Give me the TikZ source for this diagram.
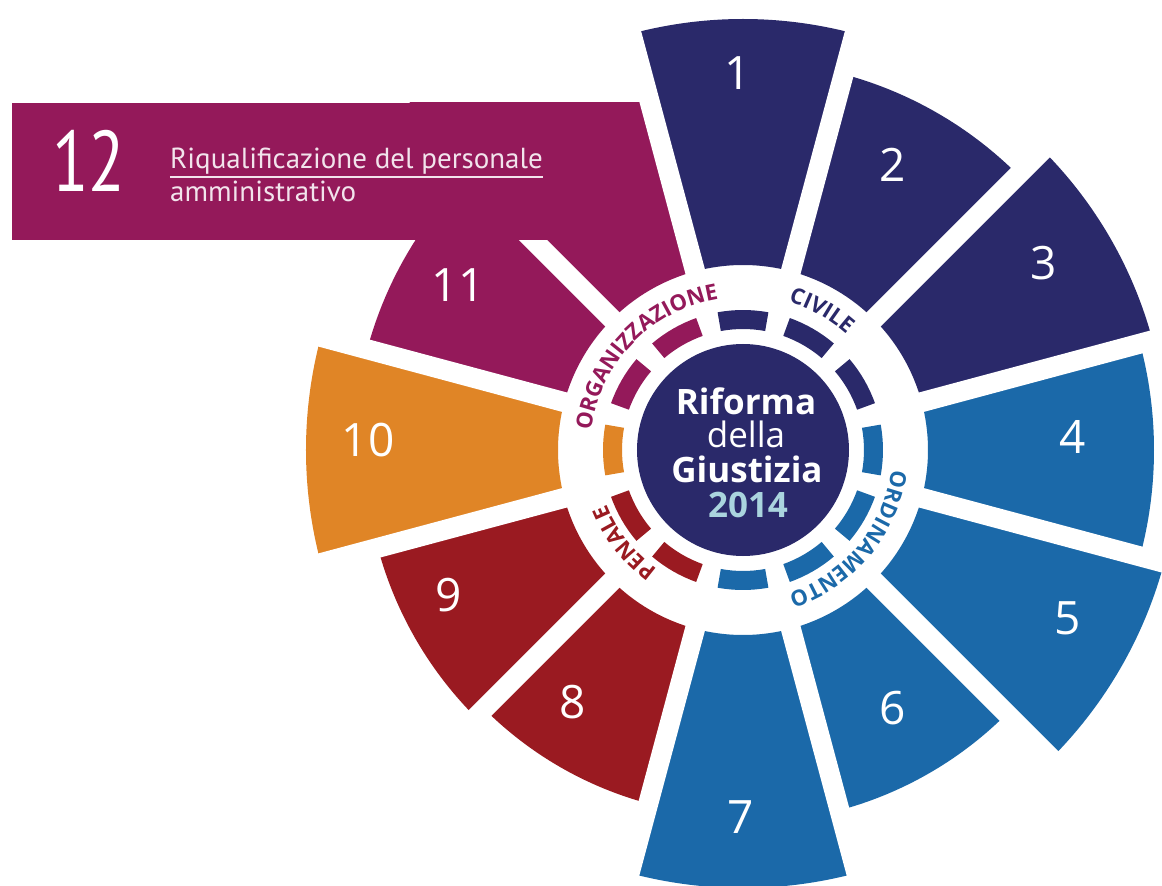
\documentclass[tikz,border=0pt]{standalone}
\usepackage{fontspec}
\setmainfont{Open Sans}
\newfontfamily\bandfont{PT Sans}
\newfontfamily\bignumfont[FakeStretch=0.78]{PT Sans}
\usetikzlibrary{decorations.text}

\definecolor{civnavy}{RGB}{42,41,106}
\definecolor{ordblue}{RGB}{27,105,169}
\definecolor{penred}{RGB}{154,26,33}
\definecolor{orgorange}{RGB}{224,133,38}
\definecolor{orgmagenta}{RGB}{148,25,90}
\definecolor{paleblue}{RGB}{170,212,222}
\definecolor{palepink}{RGB}{242,228,236}

\newcommand{\ringfont}{\fontsize{22}{22}\selectfont\bfseries}

\begin{document}
\begin{tikzpicture}[x=1pt,y=1pt,
        num/.style={text=white,font=\fontsize{46}{46}\selectfont,inner sep=0pt},
        hubtext/.style={anchor=base,inner sep=0pt,font=\fontsize{35}{35}\selectfont\bfseries},
        bandtext/.style={anchor=base west,inner sep=0pt,text=palepink,font=\bandfont\fontsize{29}{29}\selectfont},
        gapline/.style={white,line width=20pt},
        ringdash/.style={line width=19pt}]
\useasboundingbox (-743,-436) rectangle (419,450);
\fill[white] (-743,-436) rectangle (419,450);

\fill[civnavy] (75:185pt) arc[start angle=75,end angle=105,radius=185pt] -- (105:431pt) arc[start angle=105,end angle=75,radius=431pt] -- cycle;
\fill[civnavy] (45:185pt) arc[start angle=45,end angle=75,radius=185pt] -- (75:389pt) arc[start angle=75,end angle=45,radius=389pt] -- cycle;
\fill[civnavy] (15:185pt) arc[start angle=15,end angle=45,radius=185pt] -- (45:424pt) arc[start angle=45,end angle=15,radius=424pt] -- cycle;
\fill[ordblue] (-15:185pt) arc[start angle=-15,end angle=15,radius=185pt] -- (15:411pt) arc[start angle=15,end angle=-15,radius=411pt] -- cycle;
\fill[ordblue] (-45:185pt) arc[start angle=-45,end angle=-15,radius=185pt] -- (-15:436pt) arc[start angle=-15,end angle=-45,radius=436pt] -- cycle;
\fill[ordblue] (-75:185pt) arc[start angle=-75,end angle=-45,radius=185pt] -- (-45:373pt) arc[start angle=-45,end angle=-75,radius=373pt] -- cycle;
\fill[ordblue] (-105:185pt) arc[start angle=-105,end angle=-75,radius=185pt] -- (-75:438pt) arc[start angle=-75,end angle=-105,radius=438pt] -- cycle;
\fill[penred] (-135:185pt) arc[start angle=-135,end angle=-105,radius=185pt] -- (-105:366pt) arc[start angle=-105,end angle=-135,radius=366pt] -- cycle;
\fill[penred] (-165:185pt) arc[start angle=-165,end angle=-135,radius=185pt] -- (-135:378pt) arc[start angle=-135,end angle=-165,radius=378pt] -- cycle;
\fill[orgorange] (165:185pt) arc[start angle=165,end angle=195,radius=185pt] -- (195:437pt) arc[start angle=195,end angle=165,radius=437pt] -- cycle;
\fill[orgmagenta] (135:185pt) arc[start angle=135,end angle=165,radius=185pt] -- (165:389pt) arc[start angle=165,end angle=135,radius=389pt] -- cycle;
\begin{scope}
\clip (-743,-436) rectangle (419,347);
\fill[orgmagenta] (105:185pt) arc[start angle=105,end angle=135,radius=185pt] -- (135:520pt) -- (105:520pt) -- cycle;
\end{scope}

\draw[gapline] (15:178pt) -- (15:530pt);
\draw[gapline] (45:178pt) -- (45:530pt);
\draw[gapline] (75:178pt) -- (75:530pt);
\draw[gapline] (105:178pt) -- (105:530pt);
\draw[gapline] (135:178pt) -- (135:530pt);
\draw[gapline] (165:178pt) -- (165:530pt);
\draw[gapline] (195:178pt) -- (195:530pt);
\draw[gapline] (225:178pt) -- (225:530pt);
\draw[gapline] (255:178pt) -- (255:530pt);
\draw[gapline] (285:178pt) -- (285:530pt);
\draw[gapline] (315:178pt) -- (315:530pt);
\draw[gapline] (345:178pt) -- (345:530pt);

\fill[orgmagenta] (-731,210) rectangle (-142,347);
\node[anchor=base,inner sep=0pt,text=white,font=\bignumfont\fontsize{86}{86}\selectfont] (n12) at (-654,258) {12};
\node[bandtext] (title) at (-573,281) {Riqualificazione del personale};
\node[bandtext] (subtitle) at (-573,248) {amministrativo};
\draw[palepink,line width=1.5pt] ([yshift=-8pt]title.base west) -- ([yshift=-8pt]title.base east);

\draw[ringdash,civnavy] (79.5:130.5pt) arc[start angle=79.5,end angle=100.5,radius=130.5pt];
\draw[ringdash,civnavy] (49.5:130.5pt) arc[start angle=49.5,end angle=70.5,radius=130.5pt];
\draw[ringdash,civnavy] (19.5:130.5pt) arc[start angle=19.5,end angle=40.5,radius=130.5pt];
\draw[ringdash,ordblue] (-10.5:130.5pt) arc[start angle=-10.5,end angle=10.5,radius=130.5pt];
\draw[ringdash,ordblue] (-40.5:130.5pt) arc[start angle=-40.5,end angle=-19.5,radius=130.5pt];
\draw[ringdash,ordblue] (-70.5:130.5pt) arc[start angle=-70.5,end angle=-49.5,radius=130.5pt];
\draw[ringdash,ordblue] (-100.5:130.5pt) arc[start angle=-100.5,end angle=-79.5,radius=130.5pt];
\draw[ringdash,penred] (-130.5:130.5pt) arc[start angle=-130.5,end angle=-109.5,radius=130.5pt];
\draw[ringdash,penred] (-160.5:130.5pt) arc[start angle=-160.5,end angle=-139.5,radius=130.5pt];
\draw[ringdash,orgorange] (169.5:130.5pt) arc[start angle=169.5,end angle=190.5,radius=130.5pt];
\draw[ringdash,orgmagenta] (139.5:130.5pt) arc[start angle=139.5,end angle=160.5,radius=130.5pt];
\draw[ringdash,orgmagenta] (109.5:130.5pt) arc[start angle=109.5,end angle=130.5,radius=130.5pt];

\begin{scope}
\ringfont
\path[decorate,decoration={text along path,text align=center,
    text={|\ringfont\color{orgmagenta}|ORGANIZZAZIONE}}]
    (196:153pt) arc[start angle=196,end angle=76,radius=153pt];
\path[decorate,decoration={text along path,text align=center,
    text={|\ringfont\color{civnavy}|CIVILE}}]
    (100.5:155pt) arc[start angle=100.5,end angle=20.5,radius=155pt];
\path[decorate,decoration={text along path,text align=center,
    text={|\ringfont\color{ordblue}|ORDINAMENTO}}]
    (10:150pt) arc[start angle=10,end angle=-90,radius=150pt];
\path[decorate,decoration={text along path,text align=center,
    text={|\ringfont\color{penred}|PENALE}}]
    (-102:147pt) arc[start angle=-102,end angle=-182,radius=147pt];
\end{scope}

\node[circle,fill=civnavy,minimum size=212pt,inner sep=0pt] (hub) at (0,0) {};
\node[hubtext,text=white] (riforma) at (3,35) {Riforma};
\node[hubtext,text=white,font=\fontsize{35}{35}\selectfont] (della) at (3,2) {della};
\node[hubtext,text=white] (giustizia) at (4,-33) {Giustizia};
\node[hubtext,text=paleblue] (anno) at (5,-67) {2014};

\node[num] (n1) at (-5,377) {1};
\node[num] (n2) at (150,285) {2};
\node[num] (n3) at (301,187) {3};
\node[num] (n4) at (330,13) {4};
\node[num] (n5) at (325,-168) {5};
\node[num] (n6) at (150,-258) {6};
\node[num] (n7) at (-2,-367) {7};
\node[num] (n8) at (-170,-252) {8};
\node[num] (n9) at (-294,-145) {9};
\node[num] (n10) at (-375,10) {10};
\node[num] (n11) at (-285,165) {11};
\end{tikzpicture}
\end{document}
